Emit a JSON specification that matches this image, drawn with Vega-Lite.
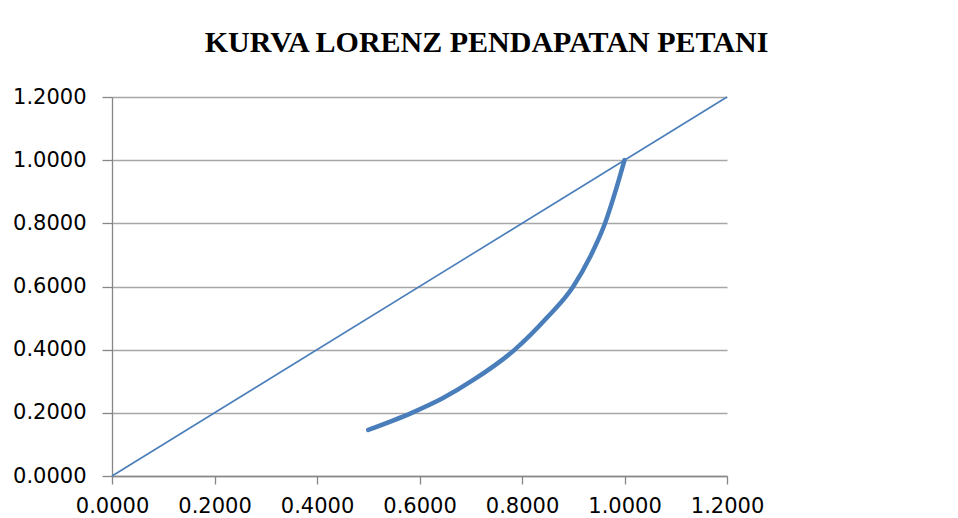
{
  "$schema": "https://vega.github.io/schema/vega-lite/v6.json",
  "autosize": "none",
  "width": 615,
  "height": 379,
  "padding": {"left": 112, "top": 97, "right": 231, "bottom": 42},
  "background": "white",
  "config": {
    "view": {"stroke": null},
    "axis": {
      "labelFont": "DejaVu Sans",
      "labelFontSize": 21,
      "labelColor": "#000000",
      "labelFlush": false,
      "domainColor": "#868686",
      "tickColor": "#868686",
      "gridColor": "#a6a6a6",
      "domainWidth": 1.3,
      "tickWidth": 1.3,
      "gridWidth": 1.3
    }
  },
  "title": {
    "text": "KURVA LORENZ PENDAPATAN PETANI",
    "font": "Liberation Serif",
    "fontSize": 30,
    "fontWeight": "bold",
    "color": "#000000",
    "anchor": "middle",
    "dx": 67,
    "offset": 28
  },
  "layer": [
    {
      "data": {"values": [
        {"kumulatif_penduduk": 0.0, "kumulatif_pendapatan": 0.0},
        {"kumulatif_penduduk": 1.2, "kumulatif_pendapatan": 1.2}
      ]},
      "mark": {"type": "line", "color": "#4a7ebb", "strokeWidth": 1.6},
      "encoding": {
        "x": {"field": "kumulatif_penduduk", "type": "quantitative",
          "scale": {"domain": [0, 1.2], "nice": false},
          "axis": {"title": null, "values": [0, 0.2, 0.4, 0.6, 0.8, 1.0, 1.2], "format": ".4f", "grid": false, "tickSize": 8, "labelPadding": 11}},
        "y": {"field": "kumulatif_pendapatan", "type": "quantitative",
          "scale": {"domain": [0, 1.2], "nice": false},
          "axis": {"title": null, "values": [0, 0.2, 0.4, 0.6, 0.8, 1.0, 1.2], "format": ".4f", "grid": true, "tickSize": 10, "labelPadding": 16}}
      }
    },
    {
      "data": {"values": [
        {"kumulatif_penduduk": 0.5, "kumulatif_pendapatan": 0.146},
        {"kumulatif_penduduk": 0.585, "kumulatif_pendapatan": 0.2},
        {"kumulatif_penduduk": 0.645, "kumulatif_pendapatan": 0.246},
        {"kumulatif_penduduk": 0.705, "kumulatif_pendapatan": 0.304},
        {"kumulatif_penduduk": 0.786, "kumulatif_pendapatan": 0.4},
        {"kumulatif_penduduk": 0.848, "kumulatif_pendapatan": 0.5},
        {"kumulatif_penduduk": 0.9, "kumulatif_pendapatan": 0.6},
        {"kumulatif_penduduk": 0.933, "kumulatif_pendapatan": 0.694},
        {"kumulatif_penduduk": 0.962, "kumulatif_pendapatan": 0.8},
        {"kumulatif_penduduk": 0.983, "kumulatif_pendapatan": 0.905},
        {"kumulatif_penduduk": 1.0, "kumulatif_pendapatan": 1.0}
      ]},
      "mark": {"type": "line", "color": "#4a7ebb", "strokeWidth": 4.5, "interpolate": "monotone", "strokeCap": "round"},
      "encoding": {
        "x": {"field": "kumulatif_penduduk", "type": "quantitative"},
        "y": {"field": "kumulatif_pendapatan", "type": "quantitative"}
      }
    }
  ]
}
